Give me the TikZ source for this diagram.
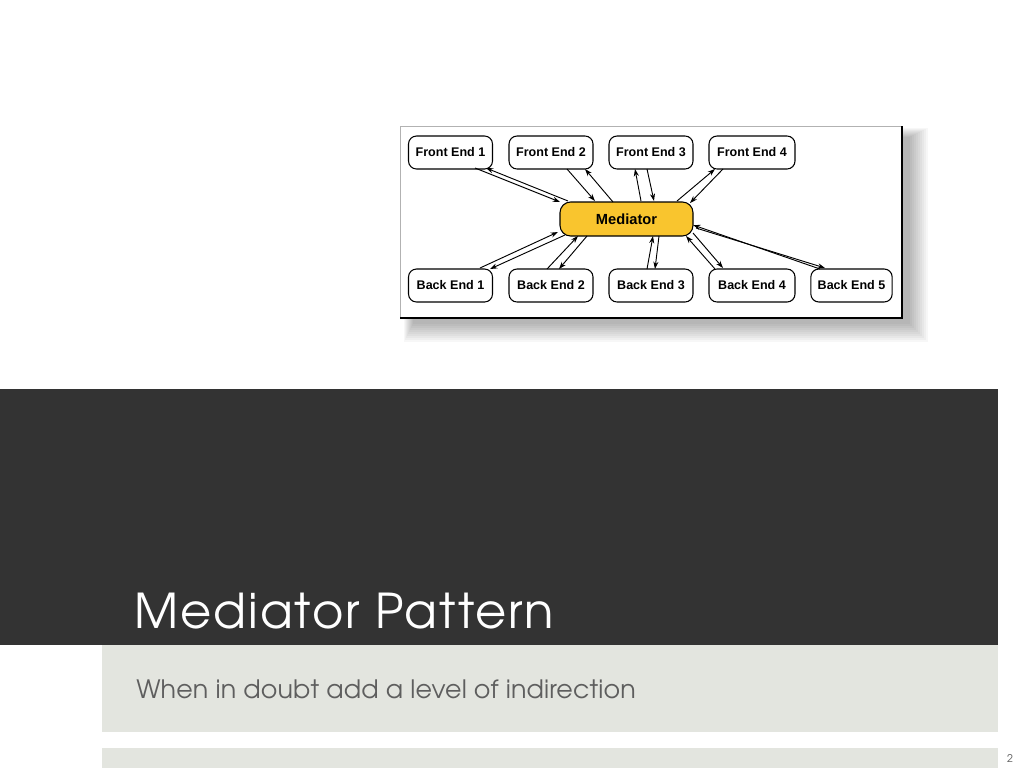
\documentclass[tikz,border=0pt]{standalone}
\usepackage{fontspec}
\setmainfont{TeX Gyre Adventor}
\newfontfamily\titlefont[LetterSpace=4.2]{TeX Gyre Adventor}
\newfontfamily\subfont[LetterSpace=0.6]{TeX Gyre Adventor}
\newfontfamily\diagfont{Liberation Sans}
\usetikzlibrary{arrows.meta,calc}
\definecolor{darkband}{HTML}{333333}
\definecolor{lightband}{HTML}{E3E5DF}
\definecolor{medfill}{HTML}{F9C52E}
\definecolor{subgray}{HTML}{5E5E5E}
\begin{document}
\begin{tikzpicture}[x=0.75pt,y=-0.75pt,
  box/.style={draw=black,line width=0.8pt,rounded corners=6pt,fill=white,
    minimum width=63pt,minimum height=24.75pt,inner sep=0pt,
    font=\diagfont\bfseries\fontsize{9.4}{10}\selectfont},
  medbox/.style={box,fill=medfill,minimum width=99.75pt,minimum height=25.5pt,rounded corners=8pt,
    font=\diagfont\bfseries\fontsize{11}{12}\selectfont},
  link/.style={line width=0.7pt,-{Stealth[length=5.5pt,width=3.8pt]}}]
\useasboundingbox (0,0) rectangle (1024,768);
\fill[white] (0,0) rectangle (1024,768);
% frame shadow
\foreach \i in {0,...,9}
  \fill[black,opacity=0.03] ({404+\i},{128+\i}) rectangle ({928-2*\i},{342-2*\i});
\fill[white] (400,126) rectangle (902,318);
\draw[gray!60,line width=0.75pt] (400,318) -- (400,126) -- (902,126);
\draw[black,line width=1.5pt] (902,126) -- (902,318) -- (400,318);
% nodes
\node[box] (fe1) at (450.5,152.5) {Front End 1};
\node[box] (fe2) at (551,152.5) {Front End 2};
\node[box] (fe3) at (651,152.5) {Front End 3};
\node[box,minimum width=64.5pt] (fe4) at (752,152.5) {Front End 4};
\node[medbox] (med) at (626.5,219) {Mediator};
\node[box] (be1) at (450.5,285.5) {Back End 1};
\node[box] (be2) at (551,285.5) {Back End 2};
\node[box] (be3) at (651,285.5) {Back End 3};
\node[box,minimum width=64.5pt] (be4) at (752,285.5) {Back End 4};
\node[box,minimum width=61pt] (be5) at (851.5,285.5) {Back End 5};
% links
\draw[link] ($(fe1)+(24.5,15.5)$) -- ($(med)+(-66.5,-17)$);
\draw[link] ($(med)+(-58.5,-18)$) -- ($(fe1)+(35.5,15.5)$);
\draw[link] ($(fe2)+(16,16.5)$) -- ($(med)+(-31.5,-18)$);
\draw[link] ($(med)+(-13.5,-17)$) -- ($(fe2)+(34,16.5)$);
\draw[link] ($(med)+(14.5,-18)$) -- ($(fe3)+(-16,16.5)$);
\draw[link] ($(fe3)+(-4,16.5)$) -- ($(med)+(27.5,-18)$);
\draw[link] ($(med)+(50.5,-18)$) -- ($(fe4)+(-37,16.5)$);
\draw[link] ($(fe4)+(-29,16.5)$) -- ($(med)+(63.5,-16)$);
\draw[link] ($(be1)+(29.5,-17.5)$) -- ($(med)+(-68.5,13)$);
\draw[link] ($(med)+(-61.5,16)$) -- ($(be1)+(39.5,-16.5)$);
\draw[link] ($(be2)+(-4,-16.5)$) -- ($(med)+(-48.5,17)$);
\draw[link] ($(med)+(-39.5,17)$) -- ($(be2)+(8,-16.5)$);
\draw[link] ($(be3)+(-4,-16.5)$) -- ($(med)+(26.5,17)$);
\draw[link] ($(med)+(32.5,17)$) -- ($(be3)+(4,-16.5)$);
\draw[link] ($(be4)+(-37,-16.5)$) -- ($(med)+(59.5,17)$);
\draw[link] ($(med)+(66.5,14)$) -- ($(be4)+(-29,-17.5)$);
\draw[link] ($(be5)+(-31.5,-16.5)$) -- ($(med)+(66.5,6)$);
\draw[link] ($(med)+(69.5,9)$) -- ($(be5)+(-26.5,-17.5)$);
% bands
\fill[darkband] (0,389) rectangle (998,645);
\fill[lightband] (102,645) rectangle (998,732);
\fill[lightband] (102,748) rectangle (998,768);
\node[anchor=base west,inner sep=0pt,text=white,font=\titlefont\fontsize{36}{40}\selectfont] (title) at (134,628) {Mediator Pattern};
\node[anchor=base west,inner sep=0pt,text=subgray,font=\subfont\fontsize{19}{22}\selectfont] (subtitle) at (136,698) {When in doubt add a level of indirection};
\node[anchor=base,inner sep=0pt,text=subgray,font=\fontsize{8}{9}\selectfont] (pagenum) at (1010,762) {2};
\end{tikzpicture}
\end{document}
